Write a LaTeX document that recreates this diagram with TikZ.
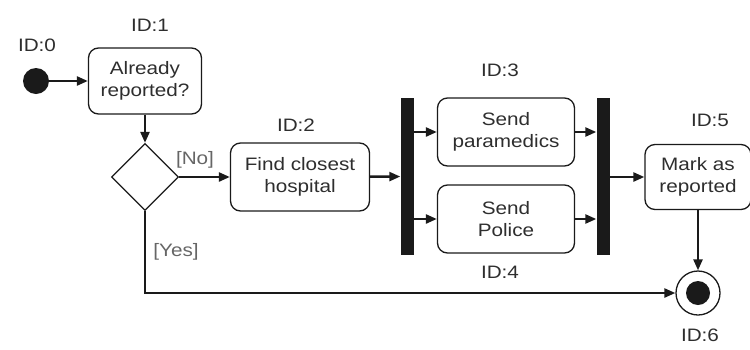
\documentclass[tikz,border=0pt]{standalone}
\usepackage{fontspec}
\setmainfont[FakeStretch=1.15]{Liberation Sans}
\usetikzlibrary{arrows.meta,shapes.geometric}
\definecolor{ink}{HTML}{1A1A1A}
\definecolor{txt}{HTML}{2E2E2E}
\begin{document}
\begin{tikzpicture}[x=1pt,y=-1pt,
  every node/.style={font=\fontsize{18}{22}\selectfont, text=txt},
  action/.style={draw=ink, line width=1.3pt, rounded corners=10pt, align=center, inner sep=0pt},
  bar/.style={fill=ink, draw=none, minimum width=13pt, minimum height=157pt, inner sep=0pt},
  idlabel/.style={inner sep=0pt},
  flow/.style={draw=ink, line width=2.4pt, -{Triangle[length=11pt,width=9pt]}},
  guard/.style={inner sep=0pt, text=gray!80!black}]
\useasboundingbox (0,0) rectangle (750,349);

% start and end states
\node[circle, fill=ink, minimum size=26pt, inner sep=0pt] (start) at (36,81) {};
\node[circle, draw=ink, line width=1.3pt, minimum size=44pt, inner sep=0pt] (final) at (698,293) {};
\node[circle, fill=ink, minimum size=24pt, inner sep=0pt] at (final) {};

% actions
\node[action, minimum width=113pt, minimum height=66pt] (a1) at (145,81) {Already\\reported?};
\node[diamond, draw=ink, line width=1.3pt, minimum width=67pt, minimum height=67pt, inner sep=0pt] (dec) at (145,177) {};
\node[action, minimum width=139pt, minimum height=68pt] (a2) at (300,177) {Find closest\\hospital};
\node[bar] (fork) at (407,176.5) {};
\node[action, minimum width=137pt, minimum height=68pt] (a3) at (506,132) {Send\\paramedics};
\node[action, minimum width=137pt, minimum height=68pt] (a4) at (506,219) {Send\\Police};
\node[bar] (join) at (603,176.5) {};
\node[action, minimum width=106pt, minimum height=65pt] (a5) at (698,177) {Mark as\\reported};

% identifiers
\node[idlabel] at (37,45) {ID:0};
\node[idlabel] at (150,25) {ID:1};
\node[idlabel] at (296,125) {ID:2};
\node[idlabel] at (500,70) {ID:3};
\node[idlabel] at (500,272) {ID:4};
\node[idlabel] at (710,120) {ID:5};
\node[idlabel] at (700,335) {ID:6};

% guards
\node[guard] at (195,160) {[No]};
\node[guard] at (176,252) {[Yes]};

% control flow
\draw[flow] (start) -- (a1);
\draw[flow] (a1) -- (dec);
\draw[flow] (dec.east) -- (a2);
\draw[flow] (a2) -- (fork);
\draw[flow] (fork.east |- a3) -- (a3);
\draw[flow] (fork.east |- a4) -- (a4);
\draw[flow] (a3) -- (join.west |- a3);
\draw[flow] (a4) -- (join.west |- a4);
\draw[flow] (join.east |- a5) -- (a5);
\draw[flow] (a5) -- (final);
\draw[flow] (dec.south) |- (final);
\end{tikzpicture}
\end{document}
